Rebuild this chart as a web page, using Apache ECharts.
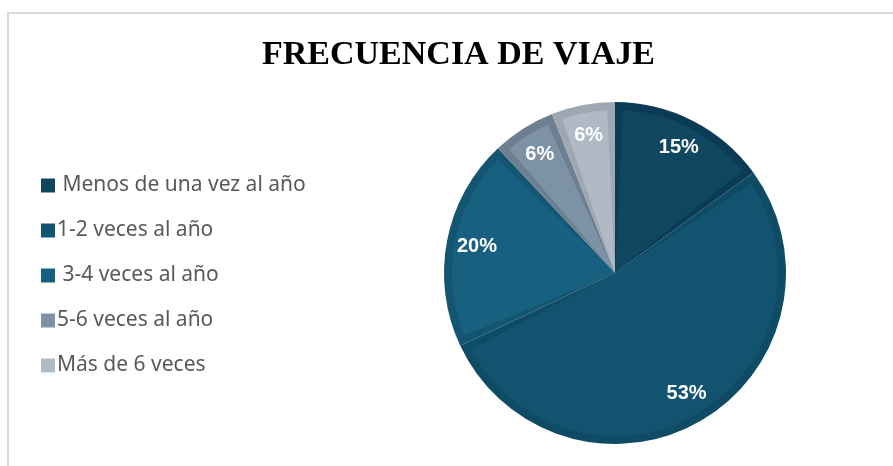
<!DOCTYPE html>
<html>
<head>
<meta charset="utf-8">
<script src="https://cdn.jsdelivr.net/npm/echarts@6/dist/echarts.min.js"></script>
<style>
    html, body { margin: 0; padding: 0; background: #fff; }
    #frame {
        position: absolute; left: 7px; top: 12px; width: 900px; height: 470px;
        border-left: 2px solid #d9d9d9; border-top: 2px solid #d9d9d9;
    }
    #main { position: absolute; left: 0; top: 0; width: 893px; height: 466px; }
</style>
</head>
<body>
<div id="frame"></div>
<div id="main"></div>
<script>
!function () {

    'use strict';

    var categories = [' Menos de una vez al año', '1-2 veces al año', ' 3-4 veces al año', '5-6 veces al año', 'Más de 6 veces'];
    var percents = [15, 53, 20, 6, 6];
    var fillColors = ['#0f4660', '#12546f', '#186080', '#7e92a5', '#b0bac5'];
    var edgeColors = ['#0c3c55', '#0f4b65', '#145672', '#6d7f91', '#9ea8b3'];

    var center = [615, 273];

    function buildData(colors) {
        return categories.map(function (name, i) {
            return { name: name, value: percents[i], itemStyle: { color: colors[i] } };
        });
    }

    /**
     * chart配置
     */
    var option = {
        animation: false,
        title: {
            text: 'FRECUENCIA DE VIAJE',
            left: 257,
            top: 33,
            textStyle: {
                fontFamily: 'Liberation Serif',
                fontWeight: 'bold',
                fontSize: 34,
                color: '#000'
            }
        },
        legend: {
            orient: 'vertical',
            left: 36,
            top: 170,
            icon: 'rect',
            itemWidth: 14,
            itemHeight: 14,
            itemGap: 24,
            selectedMode: false,
            textStyle: {
                fontFamily: 'Noto Sans',
                fontSize: 21,
                color: '#595959',
                padding: [0, 0, 0, -3]
            },
            data: categories
        },
        series: [
            {
                name: 'fill',
                type: 'pie',
                z: 3,
                silent: true,
                center: center,
                radius: [0, 163],
                startAngle: 90,
                clockwise: true,
                padAngle: 5.5,
                label: { show: false },
                labelLine: { show: false },
                data: buildData(fillColors)
            },
            {
                name: 'edge',
                type: 'pie',
                z: 2,
                silent: true,
                center: center,
                radius: [0, 171],
                startAngle: 90,
                clockwise: true,
                label: { show: false },
                labelLine: { show: false },
                data: buildData(edgeColors)
            },
            {
                name: 'labels',
                type: 'pie',
                z: 4,
                silent: true,
                center: center,
                radius: [104, 171],
                startAngle: 90,
                clockwise: true,
                itemStyle: { color: 'rgba(0,0,0,0)' },
                label: {
                    show: true,
                    position: 'inside',
                    formatter: '{c}%',
                    fontFamily: 'Liberation Sans',
                    fontWeight: 'bold',
                    fontSize: 20,
                    color: '#fff'
                },
                labelLine: { show: false },
                data: buildData(fillColors).map(function (d) {
                    return { name: d.name, value: d.value };
                })
            }
        ]
    };

    var chart = echarts.init(document.getElementById('main'), null, { renderer: 'canvas' });
    chart.setOption(option);
}();
</script>
</body>
</html>
